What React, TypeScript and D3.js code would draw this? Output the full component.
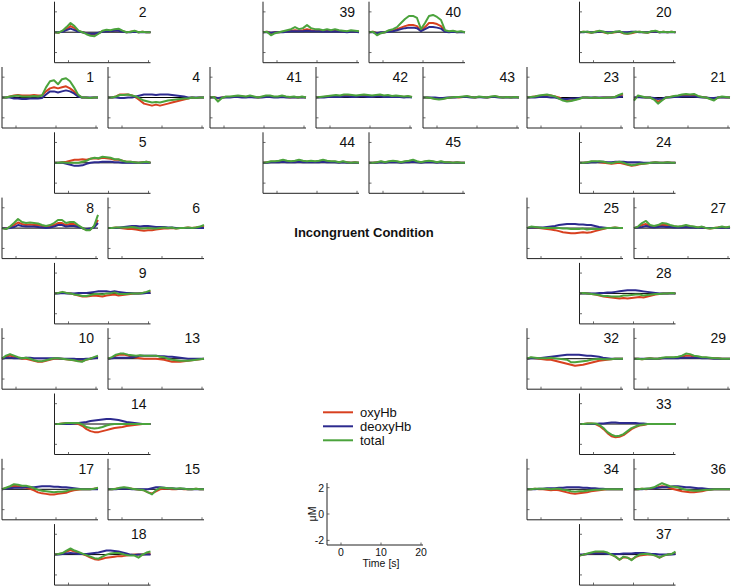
import React from "react";
import * as d3 from "d3";

const times = d3.range(25).map((i) => -3.5 + i);
const xTicks = [0, 10, 20];
const yTicks = [-2, 0, 2];
const scaleTickLabels = ["2", "0", "-2"];
const seriesNames = ["oxyHb", "deoxyHb", "total"];
const title = "Incongruent Condition";

// channel, column index, row index
const panels: [number, number, number][] = [
  [2, 1, 0], [39, 4, 0], [40, 6, 0], [20, 9, 0],
  [1, 0, 1], [4, 2, 1], [41, 3, 1], [42, 5, 1], [43, 7, 1], [23, 8, 1], [21, 10, 1],
  [5, 1, 2], [44, 4, 2], [45, 6, 2], [24, 9, 2],
  [8, 0, 3], [6, 2, 3], [25, 8, 3], [27, 10, 3],
  [9, 1, 4], [28, 9, 4],
  [10, 0, 5], [13, 2, 5], [32, 8, 5], [29, 10, 5],
  [14, 1, 6], [33, 9, 6],
  [17, 0, 7], [15, 2, 7], [34, 8, 7], [36, 10, 7],
  [18, 1, 8], [37, 9, 8],
];

const oxyHb: Record<number, number[]> = {
  2: [0,-0.05,0.1,0.3,0.6,0.4,0.1,0,-0.1,-0.2,-0.25,-0.1,0.1,0.15,0.1,0.15,0.2,0.1,0,0.05,0.1,0,0.05,0,0],
  39: [0,0.05,-0.1,0,0,0.05,0.1,0.15,0.2,0.15,0.2,0.3,0.2,0.15,0.2,0.1,0.15,0.1,0.2,0.1,0.1,0.05,0.1,0.1,0.05],
  40: [0,0.05,-0.1,-0.05,0,0.1,0.15,0.3,0.45,0.6,0.7,0.7,0.6,0.15,0.5,0.9,0.9,0.8,0.6,0.1,0.05,0.1,0,0.05,0],
  20: [0,0.05,0,-0.05,0.05,0.1,0,-0.1,-0.05,0,0.05,-0.1,-0.15,-0.1,0,0.05,0,-0.05,0.05,0.1,0,0.05,0,0.05,0],
  1: [0,0,0.1,0.2,0.25,0.2,0.2,0.2,0.25,0.2,0.2,0.6,0.9,1.0,0.9,1.0,1.1,0.9,0.6,0.2,0,0,-0.05,0,0],
  4: [0,0,0.1,0.3,0.3,0.3,0.2,0,-0.3,-0.6,-0.7,-0.8,-0.7,-0.8,-0.7,-0.6,-0.5,-0.4,-0.3,-0.2,-0.1,0,-0.05,0,0],
  41: [0,0.05,-0.1,0,0.05,0.05,0.05,0.1,0.1,0.05,0.1,0.05,0,0.05,0.1,0.1,0.05,0.05,0.1,0.05,0,0.05,0,0.05,0],
  42: [0,0.05,0.05,0.1,0.1,0.15,0.1,0.15,0.2,0.15,0.1,0.15,0.2,0.15,0.1,0.15,0.2,0.1,0.15,0.1,0.1,0.1,0.05,0.1,0.05],
  43: [0,0,-0.05,-0.1,-0.15,-0.1,-0.05,0,0.05,0,0.05,0.1,0.05,0,0.05,0.05,0,0.05,0.1,0.05,0,0.05,0,0.05,0],
  23: [0,0.05,0.1,0.15,0.2,0.25,0.2,0.1,0,-0.2,-0.3,-0.3,-0.2,-0.1,0,0,-0.05,0,-0.05,0,0,0,0.05,0.2,0.3],
  21: [-0.1,0.1,0.05,0,0,-0.15,-0.4,-0.2,0,0.05,0.1,0.15,0.2,0.25,0.2,0.25,0.1,0.05,0,-0.1,-0.2,0,0.05,0,0],
  5: [0,0,0.05,0.1,0.2,0.3,0.3,0.35,0.3,0.4,0.45,0.4,0.5,0.45,0.4,0.3,0.3,0.2,0.1,0.1,0.05,0,0.05,0.1,0],
  44: [0,0.05,0.1,0.1,0.15,0.2,0.15,0.1,0.15,0.2,0.15,0.1,0.15,0.1,0.15,0.2,0.15,0.1,0.1,0.05,0.1,0.05,0,0.05,0],
  45: [0,0,0.05,0.1,0.05,0.1,0.15,0.1,0.05,0.1,0.15,0.2,0.1,0.05,0.1,0.15,0.1,0.05,0.1,0.05,0.05,0,0.05,0,0],
  24: [0,0,0.05,0.1,0.1,0.05,0,-0.05,-0.1,-0.05,0,-0.1,-0.2,-0.3,-0.25,-0.15,-0.1,-0.05,0,0.05,0,0,0.05,0,0],
  8: [0,-0.05,0.1,0.3,0.55,0.4,0.3,0.35,0.3,0.3,0.2,0.1,0.2,0.3,0.5,0.5,0.3,0.4,0.4,0.2,0,-0.15,-0.15,0.15,0.8],
  6: [0,0,0.05,0,-0.05,-0.1,-0.1,-0.15,-0.2,-0.25,-0.2,-0.2,-0.15,-0.1,-0.05,-0.05,0,-0.05,0,0,0.05,0,0.05,0.1,0.2],
  25: [0,0.1,0.05,0,-0.05,-0.1,-0.15,-0.2,-0.3,-0.4,-0.45,-0.5,-0.5,-0.45,-0.4,-0.45,-0.4,-0.3,-0.2,-0.1,0,0,0.05,0,0],
  27: [0,0.1,0.3,0.4,0.2,0.1,0.2,0.3,0.3,0.2,0.15,0.1,0.15,0.2,0.15,0.1,0.05,0.1,0,-0.05,0,0.05,0.1,0.05,0.1],
  9: [0,0.05,0.1,0.05,0,-0.1,-0.2,-0.3,-0.3,-0.25,-0.2,-0.25,-0.3,-0.2,-0.15,-0.1,-0.2,-0.15,-0.1,-0.05,0,0,0.05,0.1,0.2],
  28: [0,0.05,0,-0.05,-0.1,-0.2,-0.3,-0.35,-0.4,-0.45,-0.5,-0.45,-0.5,-0.45,-0.4,-0.35,-0.4,-0.3,-0.2,-0.1,-0.05,0,0,0.05,0],
  10: [0,0.2,0.3,0.2,0.1,0,0,-0.1,-0.2,-0.3,-0.3,-0.2,-0.1,0,0,0,-0.05,-0.1,-0.15,-0.2,-0.25,-0.1,0,0.1,0.2],
  13: [0,0.1,0.3,0.4,0.4,0.3,0.2,0.1,0.05,0,0,0,0,-0.05,-0.1,-0.2,-0.3,-0.3,-0.3,-0.25,-0.2,-0.15,-0.1,-0.05,0],
  32: [0,0.1,0.05,0,-0.05,-0.1,-0.1,-0.2,-0.3,-0.4,-0.5,-0.6,-0.7,-0.65,-0.6,-0.5,-0.4,-0.3,-0.2,-0.15,-0.1,-0.05,0,0,0],
  29: [0,0,-0.05,0,0.05,0,0,0.05,0.1,0.1,0.1,0.15,0.2,0.3,0.3,0.2,0.15,0.1,0.1,0.05,0.05,0.05,0,0,0],
  14: [0,0,0.05,0.1,0.1,0.05,0,-0.2,-0.5,-0.7,-0.8,-0.8,-0.7,-0.6,-0.5,-0.4,-0.35,-0.3,-0.2,-0.15,-0.1,-0.05,0,0,0],
  33: [0,0,0.05,0.05,0,-0.2,-0.5,-0.9,-1.2,-1.3,-1.25,-1.1,-0.8,-0.5,-0.3,-0.15,-0.1,0,0,0,0,0,0,0,0],
  17: [0,0.1,0.2,0.35,0.3,0.2,0.15,0.05,-0.1,-0.3,-0.4,-0.45,-0.5,-0.5,-0.45,-0.4,-0.35,-0.2,-0.1,-0.05,0,0,0,0.05,0.1],
  15: [0,0,0.05,0.1,0.15,0.1,0.05,0,-0.05,-0.1,-0.3,-0.4,-0.2,0,0.05,0.05,0,0,0.05,0,0,0,0.05,0,0],
  34: [0,0,0.05,0,0,-0.05,-0.1,-0.05,-0.1,-0.2,-0.3,-0.4,-0.45,-0.4,-0.35,-0.3,-0.2,-0.15,-0.1,-0.05,0,0,0,0,0],
  36: [0,0,0.05,0,0.05,0.1,0.2,0.3,0.25,0.1,0,-0.1,-0.2,-0.25,-0.3,-0.3,-0.25,-0.2,-0.1,-0.05,0,0,0,0,0],
  18: [0,0.05,0.1,0.3,0.45,0.3,0.2,0.05,-0.1,-0.3,-0.45,-0.5,-0.4,-0.3,-0.25,-0.2,-0.15,-0.15,-0.1,-0.05,0,0,0,0.05,0.1],
  37: [-0.1,0,0.05,0.1,0.15,0.15,0.2,0.1,0,-0.2,-0.5,-0.25,-0.3,-0.5,-0.25,-0.1,-0.05,0,0,-0.1,-0.3,-0.1,0,0.05,0.2],
};

const deoxyHb: Record<number, number[]> = {
  2: [0,0,0.05,0.2,0.35,0.2,0.05,0,-0.1,-0.15,-0.15,-0.05,0.05,0.1,0.1,0.15,0.15,0.05,0,0,0.05,0,0,0,0],
  39: [0,0,-0.05,0,0,0,0.05,0.1,0.1,0.1,0.1,0.15,0.1,0.1,0.1,0.05,0.1,0.05,0.1,0.05,0.05,0,0.05,0.05,0],
  40: [0,0,-0.1,0,0,0.05,0.1,0.2,0.3,0.4,0.45,0.45,0.4,0.1,0.3,0.5,0.5,0.45,0.35,0.05,0,0.05,0,0,0],
  20: [0,0,0.05,0,0,0.05,0.05,0,0,0.05,0.05,0,0,0.05,0.05,0,0,0,0.05,0.05,0,0,0,0,0],
  1: [0,0,0,-0.1,-0.1,-0.15,-0.15,-0.1,-0.1,-0.1,-0.05,0.3,0.6,0.6,0.5,0.6,0.7,0.6,0.4,0.1,0,0,0,0,0],
  4: [0,0,0,-0.05,-0.05,0,0,0.1,0.2,0.3,0.3,0.3,0.25,0.3,0.3,0.3,0.25,0.2,0.15,0.1,0,0,0,0,0],
  41: [0,0,-0.05,0,0,0,0.05,0.05,0,0,0.05,0,0,0,0.05,0.05,0,0,0.05,0,0,0,0,0,0],
  42: [0,0,0,0.05,0.05,0.05,0.05,0.1,0.1,0.05,0.05,0.1,0.1,0.05,0.05,0.1,0.1,0.05,0.05,0.05,0.05,0.05,0,0.05,0],
  43: [0,0,0,0,-0.05,-0.05,0,0,0,0.05,0.05,0.05,0,0,0.05,0,0,0.05,0.05,0,0,0,0,0,0],
  23: [0,0,0,0.05,0.05,0.05,0,0,-0.1,-0.15,-0.15,-0.1,-0.1,-0.05,0,0,0,0,0,0,0,0,0,0.05,0.1],
  21: [0,0.05,0,0,0,-0.05,-0.15,-0.1,0,0,0.05,0.05,0.1,0.1,0.1,0.1,0.05,0,0,-0.05,-0.05,0,0,0,0],
  5: [0,0,0,-0.1,-0.2,-0.3,-0.3,-0.25,-0.1,0,0.05,0.05,0.1,0.1,0.1,0.05,0.05,0,0,0,0,0,0,0,0],
  44: [0,0,0.05,0.05,0.05,0.1,0.05,0.05,0.05,0.1,0.05,0.05,0.05,0.05,0.05,0.1,0.05,0.05,0.05,0,0.05,0,0,0,0],
  45: [0,0,0,0.05,0,0.05,0.05,0.05,0,0.05,0.05,0.1,0.05,0,0.05,0.05,0.05,0,0.05,0,0,0,0,0,0],
  24: [0,0,0,0.05,0.05,0.1,0.1,0.05,0.05,0.1,0.1,0.1,0.05,0.05,0.05,0.05,0,0,0,0,0,0,0,0,0],
  8: [0,-0.05,0,0.1,0.3,0.2,0.15,0.15,0.15,0.1,0.05,0,0.05,0.15,0.3,0.3,0.15,0.2,0.2,0.1,0,-0.1,-0.05,0.05,0.5],
  6: [0,0,0,0.05,0.1,0.15,0.2,0.2,0.15,0.2,0.2,0.15,0.1,0.1,0.1,0.05,0.05,0,0,0,0,0,0,0,0],
  25: [0,0.05,0.05,0.05,0.05,0.1,0.15,0.2,0.3,0.35,0.4,0.4,0.4,0.35,0.35,0.3,0.3,0.2,0.1,0.05,0,0,0,0,0],
  27: [0,0.05,0.1,0.2,0.1,0.05,0.1,0.15,0.1,0.1,0.05,0.05,0.05,0.1,0.05,0.05,0,0.05,0,0,0,0,0.05,0,0.05],
  9: [0,0,0.05,0,0,0,0.05,0.05,0.05,0.1,0.15,0.2,0.2,0.2,0.15,0.2,0.15,0.1,0.05,0.05,0,0,0,0.05,0.05],
  28: [0,0,0,0,0,0.05,0.05,0.1,0.1,0.15,0.2,0.25,0.3,0.3,0.3,0.25,0.2,0.15,0.1,0.05,0,0,0,0,0],
  10: [0,0.1,0.1,0.05,0.05,0.05,0.1,0.1,0.05,0.05,0.05,0.05,0.05,0.05,0.05,0,0,0,0,-0.05,-0.05,0,0,0.05,0.1],
  13: [0,0.05,0.1,0.1,0.1,0.1,0.15,0.2,0.3,0.3,0.3,0.3,0.3,0.25,0.25,0.2,0.2,0.15,0.1,0.05,0,0,0,0,0],
  32: [0,0.05,0.05,0.05,0.1,0.15,0.2,0.25,0.3,0.35,0.4,0.4,0.4,0.4,0.35,0.3,0.3,0.25,0.2,0.1,0.05,0,0,0,0],
  29: [0,0,0,0,0,0,0,0.05,0.05,0.05,0.05,0.05,0.1,0.1,0.1,0.1,0.1,0.05,0.05,0.05,0,0,0,0,0],
  14: [0,0,0,0,0,0.05,0.1,0.15,0.2,0.3,0.35,0.4,0.45,0.5,0.5,0.45,0.4,0.3,0.2,0.15,0.1,0.05,0,0,0],
  33: [0,0,0,0,0,0.05,0.05,0.1,0.15,0.15,0.1,0.1,0.1,0.1,0.1,0.05,0.05,0,0,0,0,0,0,0,0],
  17: [0,0.05,0.1,0.15,0.15,0.15,0.2,0.2,0.2,0.25,0.3,0.3,0.3,0.25,0.25,0.2,0.2,0.15,0.1,0.05,0,0,0,0,0],
  15: [0,0,0,0.05,0.05,0.05,0,0,0,0,0,0.1,0.2,0.2,0.15,0.1,0.1,0.05,0.05,0.05,0,0,0,0,0],
  34: [0,0,0,0.05,0.05,0.1,0.1,0.1,0.15,0.15,0.2,0.2,0.2,0.2,0.15,0.15,0.1,0.1,0.05,0.05,0,0,0,0,0],
  36: [0,0,0,0.05,0.05,0.1,0.15,0.2,0.2,0.25,0.3,0.3,0.25,0.2,0.2,0.15,0.1,0.1,0.05,0,0,0,0,0,0],
  18: [0,0,0.05,0.1,0.15,0.1,0.05,0.05,0.05,0.1,0.15,0.2,0.3,0.4,0.4,0.35,0.3,0.2,0.1,0,-0.05,0,0,0,0],
  37: [0,0,0.05,0.1,0.1,0.1,0.1,0.05,0.05,0.05,0.05,0.1,0.1,0.1,0.15,0.15,0.15,0.1,0.05,0.05,0,0,0,0,0.05],
};

const total: Record<number, number[]> = {
  2: [0,-0.05,0.15,0.5,0.9,0.6,0.15,0,-0.2,-0.35,-0.4,-0.15,0.15,0.25,0.2,0.3,0.35,0.15,0,0.05,0.15,0,0.05,0,0],
  39: [0,0.05,-0.3,-0.1,0,0.1,0.2,0.3,0.5,0.3,0.4,0.7,0.4,0.3,0.3,0.2,0.3,0.2,0.3,0.2,0.15,0.1,0.2,0.15,0.1],
  40: [0,0.05,-0.3,-0.1,0,0.2,0.3,0.5,0.9,1.3,1.6,1.6,1.4,0.3,0.9,1.6,1.7,1.5,1.2,0.2,0.1,0.15,0.05,0.1,0],
  20: [0,0.05,0.05,-0.05,0.05,0.15,0.05,-0.1,-0.05,0.05,0.1,-0.1,-0.15,-0.05,0.05,0.05,0,-0.05,0.1,0.15,0,0.05,0,0.05,0],
  1: [0,0,0.1,0.15,0.2,0.1,0.1,0.1,0.15,0.1,0.2,1.0,1.6,1.7,1.3,1.8,1.9,1.6,1.0,0.3,0,0,-0.05,0,0],
  4: [0,0,0.1,0.25,0.25,0.3,0.2,0.1,-0.1,-0.3,-0.4,-0.5,-0.45,-0.5,-0.4,-0.3,-0.25,-0.2,-0.15,-0.1,-0.1,0,-0.05,0,0],
  41: [0,0.05,-0.4,-0.05,0.1,0.1,0.15,0.2,0.15,0.1,0.2,0.1,0,0.1,0.2,0.2,0.1,0.1,0.2,0.1,0.05,0.1,0,0.1,0],
  42: [0,0.05,0.1,0.15,0.2,0.25,0.2,0.3,0.3,0.25,0.2,0.25,0.3,0.25,0.2,0.25,0.3,0.2,0.25,0.15,0.2,0.15,0.1,0.15,0.05],
  43: [0,0,-0.05,-0.15,-0.2,-0.15,-0.05,0,0.05,0.05,0.1,0.15,0.05,0,0.1,0.05,0,0.1,0.15,0.05,0,0.05,0,0.05,0],
  23: [0,0.05,0.1,0.2,0.25,0.3,0.2,0.1,-0.1,-0.3,-0.4,-0.35,-0.25,-0.15,0,0,-0.05,0,-0.05,-0.05,0,0,0.05,0.25,0.4],
  21: [-0.3,0.2,0.1,0,0,-0.2,-0.6,-0.3,0,0.05,0.15,0.2,0.3,0.35,0.3,0.35,0.15,0.05,0,-0.15,-0.3,0,0.1,0.05,0],
  5: [0,0,0.05,0,0,0,0,0.1,0.2,0.4,0.5,0.45,0.6,0.55,0.5,0.35,0.35,0.2,0.1,0.1,0.05,0,0.05,0.1,0],
  44: [0,0.05,0.15,0.15,0.2,0.3,0.2,0.15,0.2,0.3,0.2,0.15,0.2,0.15,0.2,0.3,0.2,0.15,0.15,0.05,0.15,0.05,0,0.05,0],
  45: [0,0,0.05,0.15,0.05,0.15,0.2,0.15,0.05,0.15,0.2,0.3,0.15,0.05,0.15,0.2,0.15,0.05,0.15,0.05,0.05,0,0.05,0,0],
  24: [0,0,0.05,0.15,0.15,0.15,0.1,0,-0.05,0.05,0.1,0,-0.15,-0.25,-0.2,-0.1,-0.1,-0.05,0,0.05,0,0,0.05,0,0],
  8: [0,-0.1,0.15,0.5,0.9,0.6,0.5,0.55,0.5,0.45,0.3,0.2,0.3,0.5,0.8,0.8,0.5,0.6,0.6,0.3,0.05,-0.2,-0.2,0.2,1.3],
  6: [0,0,0.05,0.05,0.05,0.05,0.1,0.05,-0.05,-0.05,0,-0.05,-0.05,0,0.05,0,0.05,-0.05,0,0,0.05,0,0.05,0.15,0.3],
  25: [0,0.15,0.1,0.05,0,0,0,0,0,-0.05,-0.05,-0.1,-0.1,-0.1,-0.05,-0.15,-0.1,-0.1,-0.1,-0.05,0,0,0.05,0,0],
  27: [0,0.15,0.5,0.7,0.3,0.2,0.3,0.5,0.45,0.3,0.2,0.15,0.2,0.3,0.2,0.15,0.05,0.15,0,-0.05,0,0.05,0.15,0.05,0.15],
  9: [0,0.05,0.15,0.05,0,-0.1,-0.15,-0.25,-0.25,-0.15,-0.05,-0.05,-0.1,0,0,0.1,-0.05,-0.05,-0.05,0,0,0,0.05,0.15,0.3],
  28: [0,0.05,0,-0.05,-0.1,-0.15,-0.25,-0.25,-0.3,-0.3,-0.3,-0.2,-0.2,-0.15,-0.1,-0.1,-0.2,-0.15,-0.1,-0.05,-0.05,0,0,0.05,0],
  10: [0,0.3,0.45,0.3,0.15,0.05,0.1,0,-0.15,-0.25,-0.25,-0.15,-0.05,0.05,0.05,0,-0.05,-0.1,-0.15,-0.25,-0.3,-0.1,0,0.15,0.3],
  13: [0,0.15,0.4,0.5,0.5,0.4,0.35,0.3,0.35,0.3,0.3,0.3,0.3,0.2,0.15,0,-0.1,-0.15,-0.2,-0.2,-0.2,-0.15,-0.1,-0.05,0],
  32: [0,0.15,0.1,0.05,0.05,0.05,0.1,0.05,0,-0.05,-0.1,-0.35,-0.35,-0.3,-0.25,-0.2,-0.1,-0.05,0,-0.05,-0.05,-0.05,0,0,0],
  29: [0,0,-0.05,0,0.05,0,0,0.1,0.15,0.15,0.15,0.2,0.3,0.5,0.45,0.3,0.25,0.15,0.15,0.1,0.05,0.05,0,0,0],
  14: [0,0,0.05,0.1,0.1,0.1,0.1,-0.05,-0.3,-0.4,-0.45,-0.4,-0.3,-0.15,-0.05,0,0,0,0,0,0,0,0,0,0],
  33: [0,0,0.05,0.05,0.05,-0.1,-0.4,-0.8,-1.05,-1.2,-1.15,-1.0,-0.7,-0.4,-0.25,-0.1,-0.05,0,0,0,0,0,0,0,0],
  17: [0,0.15,0.3,0.5,0.45,0.35,0.35,0.25,0.1,-0.05,-0.15,-0.2,-0.25,-0.3,-0.25,-0.25,-0.2,-0.05,0,0,0,0,0,0.05,0.15],
  15: [0,0,0.05,0.15,0.2,0.15,0.05,0,-0.05,-0.1,-0.3,-0.5,-0.1,0.15,0.15,0.1,0.1,0.05,0.1,0.05,0,0,0.05,0,0],
  34: [0,0,0.05,0.05,0.05,0.05,0,0.05,0.05,-0.05,-0.1,-0.2,-0.25,-0.2,-0.2,-0.15,-0.1,-0.05,-0.05,0,0,0,0,0,0],
  36: [0,0,0.05,0.05,0.1,0.2,0.4,0.6,0.45,0.3,0.25,0.2,0.05,-0.05,-0.1,-0.15,-0.15,-0.1,-0.05,-0.05,0,0,0,0,0],
  18: [0,0.05,0.15,0.4,0.6,0.4,0.25,0.1,-0.05,-0.2,-0.35,-0.4,-0.2,0,0.1,0.15,0.15,0.05,-0.05,-0.1,-0.1,-0.3,0,0.2,0.3],
  37: [-0.1,0,0.1,0.2,0.3,0.3,0.3,0.2,0,-0.2,-0.5,-0.2,-0.3,-0.55,-0.2,0,0.05,0.05,0,-0.1,-0.3,-0.1,0,0.05,0.3],
};

const colors = ["#d8401f", "#2c2a8e", "#4ba33c"];
const colX = [2, 54.5, 108, 210, 263, 316, 369, 423, 527, 579.5, 634];
const PW = 96;
const PH = 61;
const rowBottom = (r: number) => 62.7 + 65.3 * r;
const FONT = "'Liberation Sans', Arial, sans-serif";

function Panel({ ch, left, bottom }: { ch: number; left: number; bottom: number }) {
  const x = d3.scaleLinear().domain([-3.5, 20.5]).range([left, left + PW]);
  const y = d3.scaleLinear().domain([-3, 3]).range([bottom, bottom - PH]);
  const series = [oxyHb[ch], deoxyHb[ch], total[ch]];
  const line = d3
    .line<number>()
    .x((_, i) => x(times[i]))
    .y((v) => y(v));
  return (
    <g>
      <line x1={left} x2={left + PW} y1={y(0)} y2={y(0)} stroke="#000" strokeWidth={1} />
      {series.map((s, k) => (
        <path key={k} d={line(s) || ""} fill="none" stroke={colors[k]} strokeWidth={2} strokeLinejoin="round" />
      ))}
      <line x1={left} x2={left} y1={bottom} y2={bottom - PH} stroke="#222" strokeWidth={1} />
      <line x1={left} x2={left + PW} y1={bottom} y2={bottom} stroke="#222" strokeWidth={1} />
      {xTicks.map((t) => (
        <line key={"x" + t} x1={x(t)} x2={x(t)} y1={bottom} y2={bottom - 2.5} stroke="#444" strokeWidth={0.8} />
      ))}
      {yTicks.map((t) => (
        <line key={"y" + t} x1={left} x2={left + 2.5} y1={y(t)} y2={y(t)} stroke="#444" strokeWidth={0.8} />
      ))}
      <text x={left + 92} y={bottom - PH + 15} textAnchor="end" fontFamily={FONT} fontSize={14} fill="#111">
        {ch}
      </text>
    </g>
  );
}

function ScalePanel() {
  const left = 327;
  const bottom = 545;
  const x = d3.scaleLinear().domain([-3.5, 20.5]).range([left, left + PW]);
  const y = d3.scaleLinear().domain([-2.35, 2.35]).range([bottom, bottom - 62]);
  const ticks = [2, 0, -2];
  return (
    <g fontFamily={FONT} fontSize={10.5} fill="#111">
      <line x1={left} x2={left} y1={bottom} y2={bottom - 62} stroke="#222" />
      <line x1={left} x2={left + PW} y1={bottom} y2={bottom} stroke="#222" />
      {xTicks.map((t) => (
        <g key={t}>
          <line x1={x(t)} x2={x(t)} y1={bottom} y2={bottom - 2.5} stroke="#444" strokeWidth={0.8} />
          <text x={x(t)} y={bottom + 11} textAnchor="middle">{t}</text>
        </g>
      ))}
      {ticks.map((t, i) => (
        <g key={t}>
          <line x1={left} x2={left + 2.5} y1={y(t)} y2={y(t)} stroke="#444" strokeWidth={0.8} />
          <text x={left - 3} y={y(t) + 4} textAnchor="end">{scaleTickLabels[i]}</text>
        </g>
      ))}
      <text transform={`translate(${left - 11},${y(0)}) rotate(-90)`} textAnchor="middle">μM</text>
      <text x={left + 54} y={bottom + 22} textAnchor="middle">Time [s]</text>
    </g>
  );
}

export default function App() {
  return (
    <svg
      width={731}
      height={586}
      style={{ position: "absolute", left: 0, top: 0, background: "#fff" }}
    >
      <rect width={731} height={586} fill="#fff" />
      {panels.map(([ch, c, r]) => (
        <Panel key={ch} ch={ch} left={colX[c]} bottom={rowBottom(r)} />
      ))}
      <text x={364} y={237} textAnchor="middle" fontFamily={FONT} fontWeight="bold" fontSize={13} fill="#111">
        {title}
      </text>
      <g fontFamily={FONT} fontSize={13} fill="#111">
        {seriesNames.map((n, i) => (
          <g key={n}>
            <line x1={323} x2={353} y1={412.3 + i * 14} y2={412.3 + i * 14} stroke={colors[i]} strokeWidth={2} />
            <text x={360} y={412.3 + i * 14 + 4.5}>{n}</text>
          </g>
        ))}
      </g>
      <ScalePanel />
    </svg>
  );
}
